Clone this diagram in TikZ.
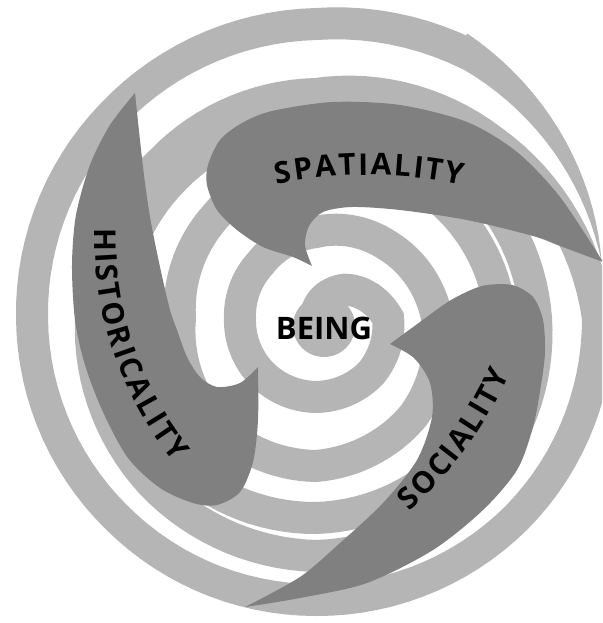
\documentclass[tikz,border=0pt]{standalone}
\usepackage{fontspec}
\setmainfont{Open Sans}
\newfontfamily\bladefont{Open Sans Bold}
\newcommand\bladelabel{\bladefont\fontsize{30}{30}\selectfont}
\usetikzlibrary{decorations.text}
\definecolor{ringgray}{gray}{0.71}
\definecolor{bladegray}{gray}{0.5}
% radius of the spiral every 45 degrees, from -90 to 1755
\def\ringradii{{0,40,72,78,79,78,76,78,86,102,121,138,148,146,136,143,155,171,185,195,
  200,201,200,199,200,207,220,232,238,233,225,220,224,250,282,283,282,282,284,288,294,310}}

\begin{document}
\begin{tikzpicture}[x=1pt, y=-1pt,
  declare function={ringr(\s)=\ringradii[int((\s+90)/45)]
    +(\ringradii[int((\s+90)/45)+1]-\ringradii[int((\s+90)/45)])
    *((\s+90)/45-int((\s+90)/45));},
  ring/.style={draw=ringgray, line width=32},
  blade/.style={fill=bladegray},
  bladetext/.style={decorate, decoration={text along path, text align=fit to path,
    text={|\bladelabel|#1}}}]
\useasboundingbox (0,0) rectangle (602,623);
\clip (0,0) rectangle (602,623);
\fill[white] (0,0) rectangle (602,623);

% The spiral, angles run clockwise from the right
\begin{scope}[shift={(316,318)}]
\fill[ringgray] (8,8) circle[radius=31];
\draw[ring] plot[domain=-90:1740, samples=611, variable=\s] (\s:{ringr(\s)});
% tapering end of the spiral
\fill[ringgray] plot[domain=1738:1789, samples=20, variable=\s] (\s:{289+2*(\s-1740)/49})
  -- plot[domain=1789:1738, samples=20, variable=\s] (\s:{321-30*(\s-1740)/49}) -- cycle;
\end{scope}

% Spatiality
\fill[blade] plot[smooth] coordinates {(312,266) (293,257) (263,247) (237,230) (217,210)
  (207,185) (208,165) (220,140) (242,123) (272,111) (333,102) (400,105) (467,122)
  (517,152) (560,197) (603,262)}
  -- plot[smooth] coordinates {(603,262) (560,246) (533,236) (467,220) (400,210) (352,207)
  (323,212) (309,226) (305,245) (312,266)} -- cycle;

% Historicality
\fill[blade] plot[smooth] coordinates {(135,93) (110,125) (90,165) (76,215) (72,265)
  (75,320) (85,365) (103,412) (128,458) (160,488) (193,503) (217,505) (240,492) (253,462)
  (258,420) (258,367)}
  -- plot[smooth] coordinates {(258,367) (240,383) (217,387) (200,377) (187,357) (177,330)
  (170,310) (160,267) (150,217) (143,167) (135,93)} -- cycle;

% Sociality
\fill[blade] plot[smooth] coordinates {(390,344) (420,322) (451,300) (482,286) (512,285)
  (533,297) (543,320) (545,352) (541,385) (533,427) (517,470) (483,510) (433,550)
  (367,583) (300,598) (245,607)}
  -- plot[smooth] coordinates {(245,607) (300,577) (340,543) (383,503) (417,460) (432,417)
  (430,383) (414,358) (390,344)} -- cycle;

% Labels
\path[bladetext=SPATIALITY] (276.7,184.4) arc[start angle=258.3, end angle=282.1, radius=450];
\path[bladetext=HISTORICALITY] (95.1,228.0) arc[start angle=181.6, end angle=141.1, radius=357];
\path[bladetext=SOCIALITY] (409.8,511.8) arc[start angle=47.2, end angle=24.8, radius=437];
\node[font=\bfseries\fontsize{31}{31}\selectfont] (being) at (324,328) {BEING};
\end{tikzpicture}
\end{document}
